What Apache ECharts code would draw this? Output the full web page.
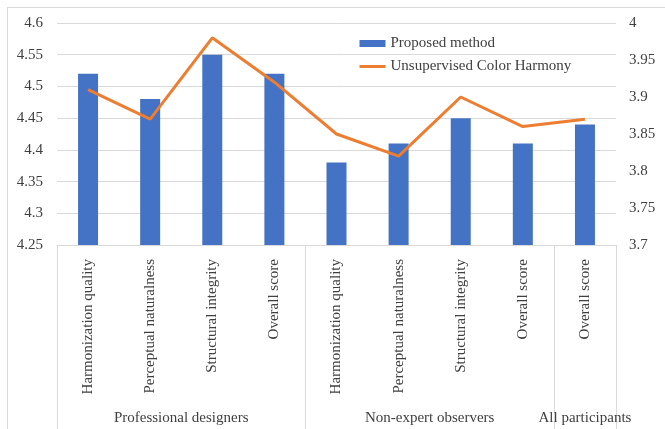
<!DOCTYPE html>
<html>
<head>
<meta charset="utf-8">
<script src="https://cdn.jsdelivr.net/npm/echarts@6/dist/echarts.min.js"></script>
<style>
  html, body { margin: 0; padding: 0; background: #fff; overflow: hidden; }
  #wrap { position: relative; width: 665px; height: 429px; overflow: hidden; }
  #frame { position: absolute; left: 7px; top: 7px; width: 700px; height: 500px; border: 1px solid #d9d9d9; box-sizing: border-box; }
  #chart { position: absolute; left: 0; top: 0; width: 665px; height: 429px; }
</style>
</head>
<body>
<div id="wrap">
  <div id="frame"></div>
  <div id="chart"></div>
</div>
<script>
const categories = [
  'Harmonization quality', 'Perceptual naturalness', 'Structural integrity', 'Overall score',
  'Harmonization quality', 'Perceptual naturalness', 'Structural integrity', 'Overall score',
  'Overall score'
];
const groupNames = ['Professional designers', 'Non-expert observers', 'All participants'];
const groupSizes = [4, 4, 1];
const proposedMethod = [4.52, 4.48, 4.55, 4.52, 4.38, 4.41, 4.45, 4.41, 4.44];
const unsupervisedColorHarmony = [3.91, 3.87, 3.98, 3.92, 3.85, 3.82, 3.90, 3.86, 3.87];
const leftTicks = { min: 4.25, max: 4.6, interval: 0.05 };
const rightTicks = { min: 3.7, max: 4.0, interval: 0.05 };

// group boundaries and centres derived from group sizes
const boundaries = [0];
const centres = [];
groupSizes.forEach(function (n) {
  const start = boundaries[boundaries.length - 1];
  centres.push(start + n / 2);
  boundaries.push(start + n);
});

const FONT = '"Liberation Serif", "Times New Roman", serif';
const TEXT = '#404040';
const GRID = '#d9d9d9';
const FS = 15;

const chart = echarts.init(document.getElementById('chart'), null, { renderer: 'canvas' });
const fmt = function (v) { return String(+(+v).toFixed(2)); };

chart.setOption({
  animation: false,
  backgroundColor: 'transparent',
  grid: { left: 57, right: 49, top: 23, bottom: 184, containLabel: false },
  legend: {
    orient: 'vertical',
    left: 353,
    top: 31,
    itemWidth: 26,
    itemHeight: 7,
    itemGap: 8,
    textStyle: { fontFamily: FONT, fontSize: FS, color: TEXT },
    data: [
      { name: 'Proposed method', icon: 'rect' },
      { name: 'Unsupervised Color Harmony', itemStyle: { opacity: 0 }, lineStyle: { width: 3 } }
    ]
  },
  xAxis: [
    {
      type: 'category',
      data: categories,
      position: 'bottom',
      axisLine: { show: true, lineStyle: { color: GRID, width: 1 } },
      axisTick: { show: false },
      axisLabel: {
        rotate: 90,
        interval: 0,
        margin: 14,
        fontFamily: FONT,
        fontSize: FS,
        color: TEXT
      },
      splitLine: { show: false }
    },
    {
      type: 'value',
      min: 0,
      max: categories.length,
      position: 'bottom',
      axisLine: { show: false },
      axisTick: {
        show: true,
        customValues: boundaries,
        length: 200,
        lineStyle: { color: GRID, width: 1 }
      },
      axisLabel: {
        show: true,
        customValues: centres,
        margin: 166,
        fontFamily: FONT,
        fontSize: FS,
        color: TEXT,
        formatter: function (v) {
          const i = centres.indexOf(v);
          return i >= 0 ? groupNames[i] : '';
        }
      },
      splitLine: { show: false }
    }
  ],
  yAxis: [
    {
      type: 'value',
      min: leftTicks.min,
      max: leftTicks.max,
      interval: leftTicks.interval,
      axisLine: { show: false },
      axisTick: { show: false },
      axisLabel: { margin: 14, fontFamily: FONT, fontSize: FS, color: TEXT, formatter: fmt },
      splitLine: { show: true, lineStyle: { color: GRID, width: 1 } }
    },
    {
      type: 'value',
      min: rightTicks.min,
      max: rightTicks.max,
      interval: rightTicks.interval,
      position: 'right',
      axisLine: { show: false },
      axisTick: { show: false },
      axisLabel: { margin: 13, fontFamily: FONT, fontSize: FS, color: TEXT, formatter: fmt },
      splitLine: { show: false }
    }
  ],
  series: [
    {
      name: 'Proposed method',
      type: 'bar',
      xAxisIndex: 0,
      yAxisIndex: 0,
      data: proposedMethod,
      barWidth: 20,
      itemStyle: { color: '#4472C4' }
    },
    {
      name: 'Unsupervised Color Harmony',
      type: 'line',
      xAxisIndex: 0,
      yAxisIndex: 1,
      data: unsupervisedColorHarmony,
      symbol: 'none',
      showSymbol: false,
      lineStyle: { color: '#ED7D31', width: 3 },
      itemStyle: { color: '#ED7D31' }
    }
  ]
});
</script>
</body>
</html>
